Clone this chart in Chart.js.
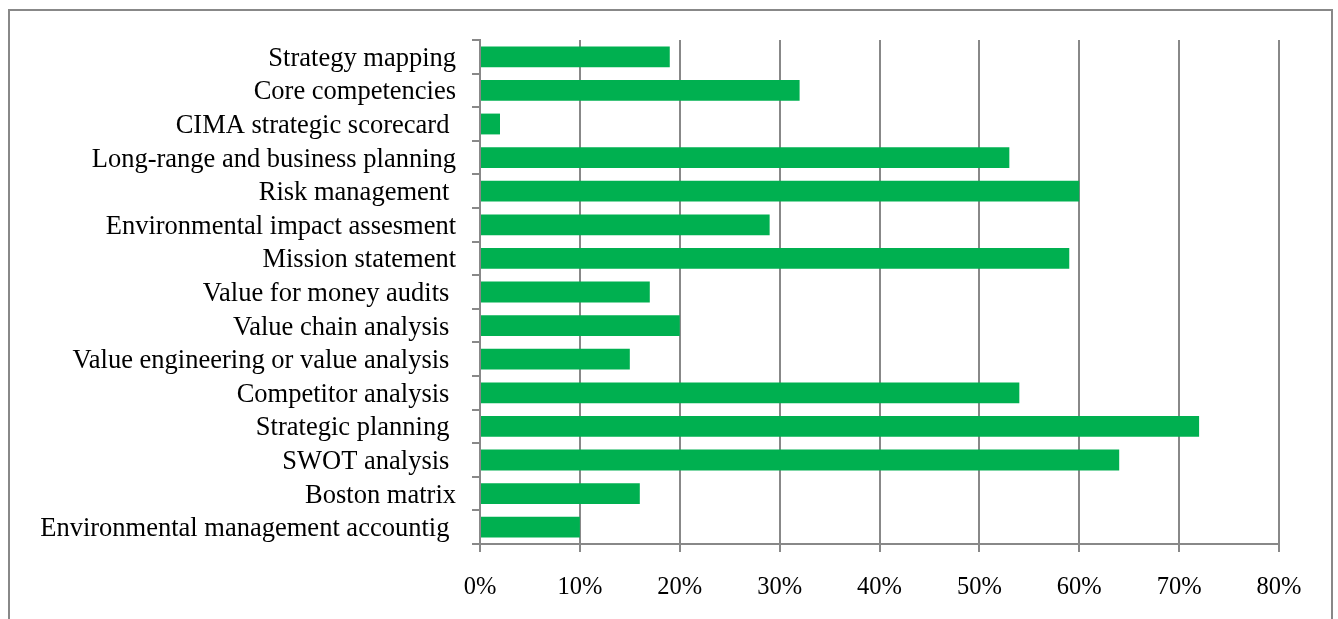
<!DOCTYPE html>
<html lang="en">
<head>
    <title>Strategic management accounting techniques</title>
    <meta charset="utf-8">
    <script src="https://cdn.jsdelivr.net/npm/chart.js@4.4.1/dist/chart.umd.min.js"></script>
    <style>
        body { margin: 0; background: #fff; }
        .frame {
            position: absolute;
            left: 8px;
            top: 9px;
            width: 1321px;
            height: 700px;
            border: 2px solid #888;
        }
        #techniques { position: absolute; left: 0; top: 0; }
    </style>
</head>
<body>
<div class="frame"></div>
<canvas id="techniques" width="1338" height="619"></canvas>

<script>
    // techniques, top to bottom
    const techniques = [
        'Strategy mapping',
        'Core competencies',
        'CIMA strategic scorecard ',
        'Long-range and business planning',
        'Risk management ',
        'Environmental impact assesment',
        'Mission statement',
        'Value for money audits ',
        'Value chain analysis ',
        'Value engineering or value analysis ',
        'Competitor analysis ',
        'Strategic planning ',
        'SWOT analysis ',
        'Boston matrix',
        'Environmental management accountig '
    ];
    // share of respondents using each technique (%)
    const usage = [19, 32, 2, 53, 60, 29, 59, 17, 20, 15, 54, 72, 64, 16, 10];
    const xTicks = [0, 10, 20, 30, 40, 50, 60, 70, 80];

    const lineGray = '#888888';
    const serif = "'Liberation Serif', 'Times New Roman', serif";

    const ctx = document.getElementById('techniques').getContext('2d');
    new Chart(ctx, {
        type: 'bar',
        data: {
            labels: techniques,
            datasets: [{
                data: usage,
                backgroundColor: '#00B050',
                borderWidth: 0,
                barPercentage: 0.62,
                categoryPercentage: 1.0
            }]
        },
        options: {
            indexAxis: 'y',
            responsive: false,
            animation: false,
            layout: { padding: { top: 40, right: 59, left: 0, bottom: 0 } },
            plugins: {
                legend: { display: false },
                tooltip: { enabled: false }
            },
            scales: {
                x: {
                    min: 0,
                    max: 80,
                    afterBuildTicks: (axis) => {
                        axis.ticks = xTicks.map(v => ({ value: v }));
                    },
                    afterFit: (axis) => { axis.height = 75; },
                    grid: {
                        color: lineGray,
                        lineWidth: 2,
                        drawTicks: true,
                        tickLength: 8
                    },
                    border: { color: lineGray, width: 2 },
                    ticks: {
                        color: '#000',
                        padding: 21,
                        maxRotation: 0,
                        font: { family: serif, size: 24.5 },
                        callback: (v) => v + '%'
                    }
                },
                y: {
                    afterFit: (axis) => { axis.width = 480; },
                    grid: {
                        offset: true,
                        drawOnChartArea: false,
                        drawTicks: true,
                        tickLength: 8,
                        color: lineGray,
                        lineWidth: 2
                    },
                    border: { color: lineGray, width: 2 },
                    ticks: {
                        color: '#000',
                        padding: 16,
                        labelOffset: 2,
                        autoSkip: false,
                        font: { family: serif, size: 26.5 }
                    }
                }
            }
        }
    });
</script>
</body>
</html>
